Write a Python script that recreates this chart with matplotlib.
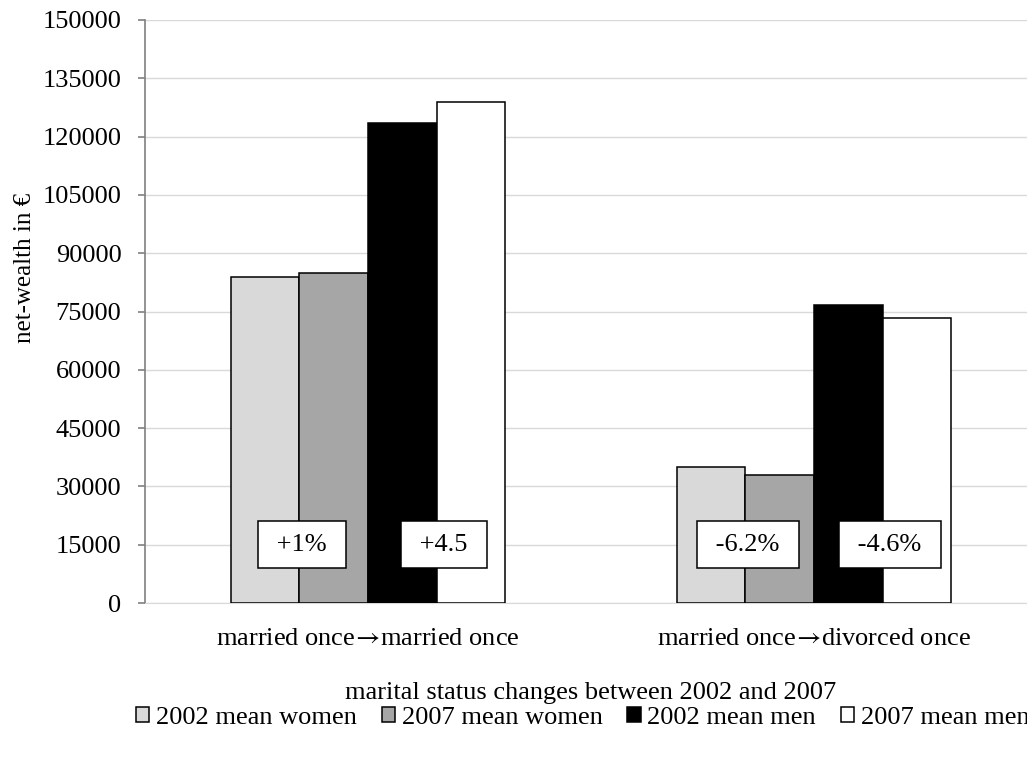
import matplotlib
matplotlib.use("Agg")
import matplotlib.pyplot as plt
import numpy as np

categories = ["married once\u2192married once", "married once\u2192divorced once"]
series_names = ["2002 mean women", "2007 mean women", "2002 mean men", "2007 mean men"]
women_2002 = [84000, 35000]
women_2007 = [85000, 33000]
men_2002 = [123400, 76800]
men_2007 = [129000, 73300]
change_women = ["+1%", "-6.2%"]
change_men = ["+4.5", "-4.6%"]
y_ticks = list(range(0, 150001, 15000))

colors = ["#d9d9d9", "#a6a6a6", "#000000", "#ffffff"]

plt.rcParams['font.family'] = ['Liberation Serif', 'DejaVu Serif']
plt.rcParams['mathtext.fontset'] = 'stix'
FS = 19

fig = plt.figure(figsize=(10.27, 7.61), dpi=100)
ax = fig.add_axes([145/1027, 158/761, 892/1027, 583/761])

x = np.arange(len(categories))
bw = 0.1536
series = [women_2002, women_2007, men_2002, men_2007]
for i, (vals, c, name) in enumerate(zip(series, colors, series_names)):
    ax.bar(x + (i - 1.5) * bw, vals, width=bw, color=c, edgecolor="black",
           linewidth=1.1, label=name, zorder=3)

for xi, (tw, tm) in enumerate(zip(change_women, change_men)):
    for off, t in ((-0.148, tw), (0.170, tm)):
        ax.text(xi + off, 15000, " " + t + " ", ha="center", va="center",
                fontsize=FS, zorder=5,
                bbox=dict(boxstyle="square,pad=0.47", facecolor="white",
                          edgecolor="black", linewidth=1.1))

ax.set_xlim(-0.5, 1.5)
ax.set_ylim(0, 150000)
ax.set_yticks(y_ticks)
ax.set_yticklabels([str(v) for v in y_ticks], fontsize=FS)
ax.set_xticks(x)
ax.set_xticklabels([c.replace("\u2192", r"$\!\rightarrow\!$") for c in categories], fontsize=FS)
ax.tick_params(axis="x", length=0, pad=18)
ax.tick_params(axis="y", length=5, color="#808080", width=1.2, pad=12)
ax.yaxis.grid(True, color="#d9d9d9", linewidth=1.0, zorder=0)
ax.set_axisbelow(True)
for s in ["top", "right"]:
    ax.spines[s].set_visible(False)
ax.spines["bottom"].set_color("#d9d9d9")
ax.spines["left"].set_color("#808080")
ax.spines["left"].set_linewidth(1.2)

ax.set_ylabel("net-wealth in \u20ac", fontsize=18, va="center")
ax.yaxis.set_label_coords(-0.134, 0.575)
ax.set_xlabel("marital status changes between 2002 and 2007", fontsize=FS, labelpad=23)

handles, labels = ax.get_legend_handles_labels()
fig.legend(handles, labels, loc="center left", bbox_to_anchor=(136/1027, 1 - 718/761),
           ncol=4, frameon=False, fontsize=FS, handlelength=0.5, handleheight=0.5,
           handletextpad=0.25, columnspacing=0.95, borderaxespad=0, borderpad=0)

fig.savefig("out.png", dpi=100)
